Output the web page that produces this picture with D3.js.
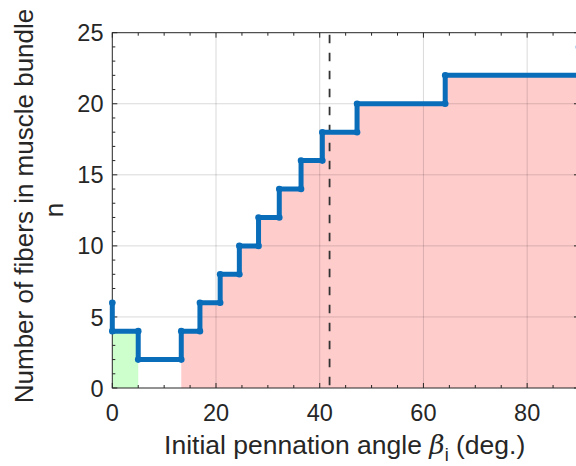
<!DOCTYPE html>
<html>
<head>
<meta charset="utf-8">
<script src="https://cdn.jsdelivr.net/npm/d3@7"></script>
<style>
  html, body { margin: 0; padding: 0; background: #fff; }
  svg { display: block; }
  text { font-family: "Liberation Sans", Arial, Helvetica, sans-serif; fill: #262626; }
</style>
</head>
<body>
<svg id="chart" width="576" height="466"></svg>
<script>
// Step curve vertices: initial pennation angle (deg) and number of fibers n
const angleDeg = [0, 0, 5, 5, 13.3, 13.3, 16.9, 16.9, 20.8, 20.8, 24.5, 24.5, 28.2, 28.2,
                  32.2, 32.2, 36.4, 36.4, 40.5, 40.5, 47.2, 47.2, 64.2, 64.2, 90, 90];
const fiberN   = [6, 4, 4, 2, 2, 4, 4, 6, 6, 8, 8, 10, 10, 12,
                  12, 14, 14, 16, 16, 18, 18, 20, 20, 22, 22, 24];

// Shaded regions under the curve (index range into the vertex list)
const greenIdx = [1, 2];   // 0..5 deg at n = 4
const redIdx = [5, 24];    // 13.3..90 deg

// Reference angle (dashed line)
const refAngle = 41.9;

// Axis ticks
const xTicks = [0, 20, 40, 60, 80];
const yTicks = [0, 5, 10, 15, 20, 25];
const xMinor = d3.range(0, 91, 5);
const yMinor = d3.range(0, 26, 1);

const pL = 112.3, pR = 579, pT = 32.7, pB = 388;
const svg = d3.select("#chart");
const x = d3.scaleLinear().domain([0, 90]).range([pL, pR]);
const y = d3.scaleLinear().domain([0, 25]).range([pB, pT]);

const pts = angleDeg.map((a, i) => ({ a, n: fiberN[i] }));

const area = d3.area().x(d => x(d.a)).y0(y(0)).y1(d => y(d.n));

svg.append("path").datum(pts.slice(greenIdx[0], greenIdx[1] + 1))
  .attr("d", area).attr("fill", "#ccffcc");
svg.append("path").datum(pts.slice(redIdx[0], redIdx[1] + 1))
  .attr("d", area).attr("fill", "#ffcccc");

// grid
const grid = svg.append("g").attr("stroke", "#000").attr("stroke-opacity", 0.15).attr("stroke-width", 1);
xTicks.filter(t => t > 0).forEach(t => {
  grid.append("line").attr("x1", x(t)).attr("x2", x(t)).attr("y1", pT).attr("y2", pB);
});
yTicks.filter(t => t > 0 && t < 25).forEach(t => {
  grid.append("line").attr("x1", pL).attr("x2", pR).attr("y1", y(t)).attr("y2", y(t));
});

// dashed reference line
svg.append("line")
  .attr("x1", x(refAngle)).attr("x2", x(refAngle))
  .attr("y1", pT).attr("y2", pB)
  .attr("stroke", "#333").attr("stroke-width", 1.8)
  .attr("stroke-dasharray", "8.5,9.5").attr("stroke-dashoffset", -2);

// axes box with ticks on all four sides
const ax = svg.append("g").attr("stroke", "#262626").attr("stroke-width", 1);
xMinor.forEach(t => {
  const len = xTicks.includes(t) ? 5 : 3;
  ax.append("line").attr("x1", x(t)).attr("x2", x(t)).attr("y1", pB).attr("y2", pB - len);
  ax.append("line").attr("x1", x(t)).attr("x2", x(t)).attr("y1", pT).attr("y2", pT + len);
});
yMinor.forEach(t => {
  const len = yTicks.includes(t) ? 5 : 3;
  ax.append("line").attr("x1", pL).attr("x2", pL + len).attr("y1", y(t)).attr("y2", y(t));
  ax.append("line").attr("x1", pR).attr("x2", pR - len).attr("y1", y(t)).attr("y2", y(t));
});
ax.append("rect").attr("x", pL).attr("y", pT).attr("width", pR - pL).attr("height", pB - pT)
  .attr("fill", "none");

// step curve
const line = d3.line().x(d => x(d.a)).y(d => y(d.n));
svg.append("path").datum(pts).attr("d", line)
  .attr("fill", "none").attr("stroke", "#0a6dba").attr("stroke-width", 5)
  .attr("stroke-linejoin", "round");
svg.append("g").selectAll("circle").data(pts).join("circle")
  .attr("cx", d => x(d.a)).attr("cy", d => y(d.n)).attr("r", 3.3).attr("fill", "#0a6dba");

// tick labels
svg.append("g").selectAll("text").data(xTicks).join("text")
  .attr("x", d => x(d)).attr("y", 421).attr("text-anchor", "middle")
  .attr("font-size", 23.5).text(d => d);
svg.append("g").selectAll("text").data(yTicks).join("text")
  .attr("x", 103.5).attr("y", d => y(d) + 8.6).attr("text-anchor", "end")
  .attr("font-size", 23.5).text(d => d);

// x label
const xl = svg.append("text").attr("x", (pL + pR) / 2 - 1).attr("y", 454)
  .attr("text-anchor", "middle").attr("font-size", 26.5);
xl.append("tspan").text("Initial pennation angle ");
xl.append("tspan").attr("font-style", "italic").attr("font-family", "DejaVu Serif, serif").text("β");
xl.append("tspan").attr("font-size", 18).attr("dy", 7).text("i");
xl.append("tspan").attr("dy", -7).text(" (deg.)");

// y label (two lines)
svg.append("text").attr("transform", "translate(33,206) rotate(-90)")
  .attr("text-anchor", "middle").attr("font-size", 26).text("Number of fibers in muscle bundle");
svg.append("text").attr("transform", "translate(63,210) rotate(-90)")
  .attr("text-anchor", "middle").attr("font-size", 26).text("n");
</script>
</body>
</html>
